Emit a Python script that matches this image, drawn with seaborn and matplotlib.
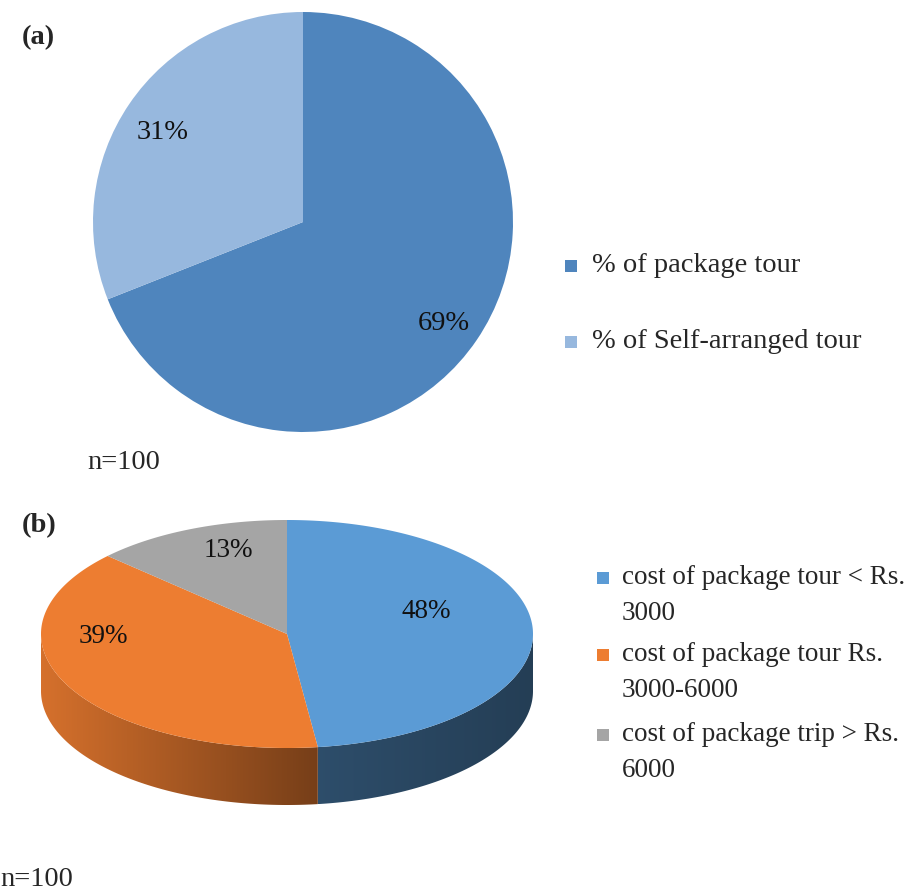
import numpy as np
import matplotlib
matplotlib.use("Agg")
import matplotlib.pyplot as plt
from matplotlib.patches import Rectangle, Polygon
import seaborn as sns

# ---------------- data ----------------
tour_labels = ["% of package tour", "% of Self-arranged tour"]
tour_values = [69, 31]

cost_labels = ["cost of package tour < Rs.\n3000",
               "cost of package tour Rs.\n3000-6000",
               "cost of package trip > Rs.\n6000"]
cost_values = [48, 39, 13]
sample_note = "n=100"

# ---------------- style ----------------
sns.set_theme(style="white")
plt.rcParams["font.family"] = ["Liberation Serif", "DejaVu Serif"]
top_colors = sns.color_palette(["#4F85BD", "#97B8DE"])
bot_colors = sns.color_palette(["#5B9BD5", "#ED7D31", "#A5A5A5"])

W, H = 913, 890
fig = plt.figure(figsize=(W / 100, H / 100), dpi=100)
fig.patch.set_facecolor("white")


def fx(px):
    return px / W


def fy(py):
    return 1 - py / H


# ---------------- (a) flat pie ----------------
cx, cy, r = 303, 222, 210
ax1 = fig.add_axes([fx(cx - r), fy(cy + r), 2 * r / W, 2 * r / H])
wedges, texts, autotexts = ax1.pie(
    tour_values, colors=top_colors, startangle=90, counterclock=False,
    autopct=lambda p: f"{p:.0f}%", pctdistance=0.81,
    wedgeprops=dict(linewidth=0),
    textprops=dict(fontsize=20.5, color="#111111"))
for t in autotexts:
    x, y = t.get_position()
    t.set_position((x, y - 0.03))
ax1.set_xlim(-1, 1)
ax1.set_ylim(-1, 1)
ax1.set_aspect("equal")
ax1.axis("off")

fig.text(fx(22), fy(38), "(a)", fontsize=20.5, fontweight="bold", va="center", ha="left")
fig.text(fx(87), fy(463), sample_note, fontsize=20.5, va="center", ha="left")

for i, (lab, col) in enumerate(zip(tour_labels, top_colors)):
    yc = [266, 342][i]
    fig.patches.append(Rectangle((fx(565), fy(yc + 6)), 12 / W, 12 / H,
                                 transform=fig.transFigure, facecolor=col,
                                 edgecolor="none"))
    fig.text(fx(592), fy(yc), lab, fontsize=20.5, va="center", ha="left")

# ---------------- (b) 3-D style pie ----------------
bcx, bcy, rx_px, ry_px, d_px = 287, 634, 246, 114, 57
ry = ry_px / rx_px
depth = d_px / rx_px
ax2 = fig.add_axes([fx(bcx - rx_px), fy(bcy + ry_px + d_px),
                    2 * rx_px / W, (ry_px * 2 + d_px) / H])
ax2.set_xlim(-1, 1)
ax2.set_ylim(-ry - depth, ry)
ax2.axis("off")

fracs = np.array(cost_values, dtype=float) / np.sum(cost_values)
bounds = 90 - 360 * np.concatenate([[0], np.cumsum(fracs)])  # clockwise

# gradient factors (light -> dark, left to right) per slice side
side_shade = [(0.50, 0.40), (0.90, 0.50), (0.60, 0.45)]

# side walls (front half only: angles 180..360)
for i in range(len(cost_values)):
    lo, hi = sorted([bounds[i], bounds[i + 1]])
    for shift in (-360, 0, 360):
        s0, s1 = max(lo + shift, 180), min(hi + shift, 360)
        if s1 <= s0:
            continue
        ts = np.radians(np.linspace(s0, s1, 200))
        xs = np.cos(ts)
        ys = ry * np.sin(ts)
        poly_x = np.concatenate([xs, xs[::-1]])
        poly_y = np.concatenate([ys, ys[::-1] - depth])
        poly = Polygon(np.column_stack([poly_x, poly_y]), closed=True,
                       facecolor="none", edgecolor="none")
        ax2.add_patch(poly)
        x0, x1 = xs.min(), xs.max()
        f0, f1 = side_shade[i]
        fac = np.linspace(f0, f1, 256)
        base = np.array(bot_colors[i][:3])
        img = np.clip(fac[None, :, None] * base[None, None, :], 0, 1)
        im = ax2.imshow(img, extent=[x0, x1, ys.min() - depth, ys.max()],
                        aspect="auto", interpolation="bilinear", zorder=1)
        im.set_clip_path(poly)

# top faces
for i in range(len(cost_values)):
    t = np.radians(np.linspace(bounds[i], bounds[i + 1], 300))
    xs = np.concatenate([[0], np.cos(t), [0]])
    ys = np.concatenate([[0], ry * np.sin(t), [0]])
    ax2.fill(xs, ys, color=bot_colors[i], linewidth=0, zorder=2)

ax2.set_xlim(-1, 1)
ax2.set_ylim(-ry - depth, ry)

label_pos = [(0.565, 0.20), (-0.745, -0.025), (-0.24, 0.73)]
for v, (lx, ly) in zip(cost_values, label_pos):
    ax2.text(lx, ly * ry, f"{v}%", fontsize=19.5, ha="center", va="center",
             color="#111111", zorder=3)

fig.text(fx(22), fy(526), "(b)", fontsize=20.5, fontweight="bold", va="center", ha="left")
fig.text(fx(0), fy(879), sample_note, fontsize=20.5, va="center", ha="left")

for i, (lab, col) in enumerate(zip(cost_labels, bot_colors)):
    y1 = [575, 652, 732][i]
    fig.patches.append(Rectangle((fx(597), fy(y1 + 9)), 12 / W, 12 / H,
                                 transform=fig.transFigure, facecolor=col,
                                 edgecolor="none"))
    fig.text(fx(622), fy(y1 - 10), lab, fontsize=19.5, va="top", ha="left",
             linespacing=1.6)

fig.savefig("out.png", dpi=100, facecolor="white")
